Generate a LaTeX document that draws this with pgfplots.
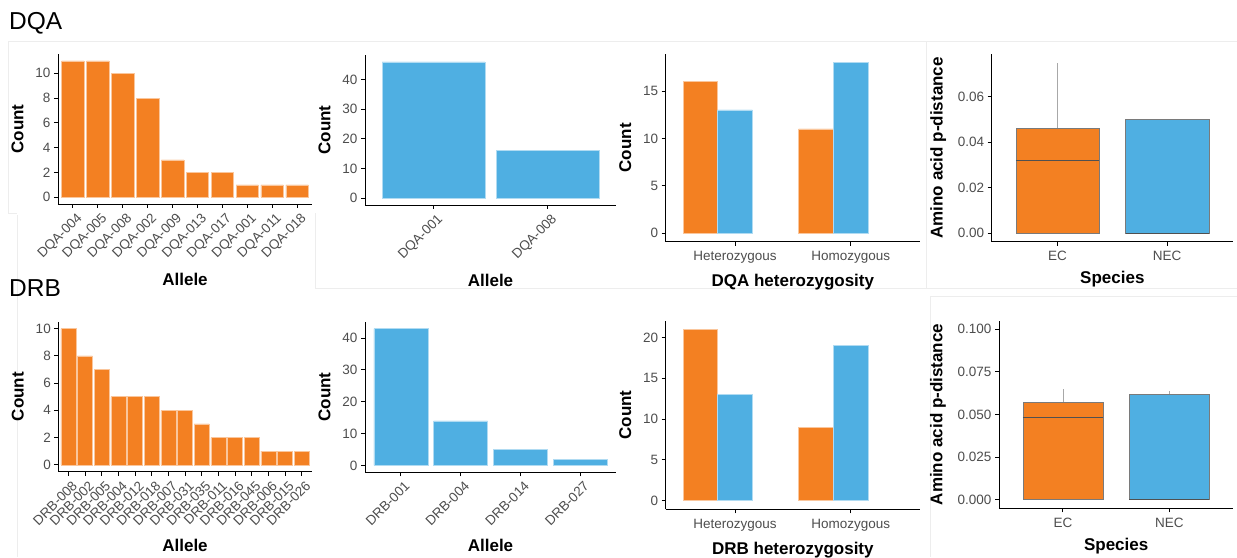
\documentclass[border=0pt]{standalone}
\usepackage{fontspec}
\setmainfont{Liberation Sans}
\usepackage{pgfplots}
\pgfplotsset{compat=1.18}

\definecolor{ecorange}{HTML}{F38022}
\definecolor{necblue}{HTML}{4FAFE2}
\definecolor{ticktext}{HTML}{4D4D4D}
\definecolor{panelline}{HTML}{EDEDED}
\definecolor{boxline}{HTML}{7A7A7A}
\definecolor{medline}{HTML}{505050}
\definecolor{whisk}{HTML}{A8A8A8}

\pgfplotsset{
  classic/.style={
    scale only axis,
    anchor=south west,
    axis x line*=bottom,
    axis y line*=left,
    axis line style={line width=0.9pt, black},
    tick align=outside,
    major tick length=4pt,
    every tick/.style={black, line width=0.9pt},
    tick label style={font=\fontsize{13.5}{16}\selectfont, color=ticktext},
    xticklabel style={yshift=-2pt},
    label style={font=\fontsize{17}{20}\selectfont\bfseries, color=black},
    xlabel style={yshift=-4pt},
    ylabel style={yshift=5pt},
    /pgf/number format/assume math mode=true,
    clip=false,
  },
  rotlabels/.style={xticklabel style={xshift=3pt, rotate=45, anchor=north east, inner sep=1.5pt},
    xlabel style={yshift=-3pt}},
  countbar/.style={ybar, bar width=0.9, bar shift=0, fill=#1, draw=#1!45!white, line width=0.5pt},
  pairbar/.style={ybar, bar width=0.3, fill=#1, draw=#1!45!white, line width=0.5pt},
  boxbody/.style={fill=#1, draw=boxline, line width=0.6pt},
  boxmedian/.style={draw=medline, line width=0.9pt},
  boxwhisker/.style={draw=whisk, line width=0.7pt},
}

\begin{document}
\begin{tikzpicture}
\path[use as bounding box] (0pt,0pt) rectangle (1237pt,557pt);

% light panel frames
\begin{scope}[draw=panelline, line width=0.7pt]
  \draw (8pt,516pt) -- (1237pt,516pt);
  \draw (8pt,516pt) -- (8pt,344pt) -- (17pt,344pt);
  \draw (17pt,342pt) -- (17pt,0pt);
  \draw (315pt,344pt) -- (315pt,269pt) -- (1237pt,269pt);
  \draw (926pt,516pt) -- (926pt,269pt);
  \draw (930pt,0pt) -- (930pt,261pt) -- (1237pt,261pt);
\end{scope}

% row titles
\node[anchor=base west, inner sep=0pt, font=\fontsize{24.5}{28}\selectfont] at (9pt,527pt) {DQA};
\node[anchor=base west, inner sep=0pt, font=\fontsize{24.5}{28}\selectfont] at (9pt,260pt) {DRB};

% ---------------- DQA: allele counts (EC)
\begin{axis}[classic, rotlabels, at={(58pt,353pt)}, width=254pt, height=150pt,
  xmin=0.4, xmax=10.6, ymin=-0.55, ymax=11.55,
  xtick={1,...,10},
  xticklabels={DQA-004,DQA-005,DQA-008,DQA-002,DQA-009,DQA-013,DQA-017,DQA-001,DQA-011,DQA-018},
  ytick={0,2,4,6,8,10},
  xlabel={Allele}, ylabel={Count}]
\addplot[countbar=ecorange] coordinates {(1,11) (2,11) (3,10) (4,8) (5,3) (6,2) (7,2) (8,1) (9,1) (10,1)};
\end{axis}

% ---------------- DQA: allele counts (NEC)
\begin{axis}[classic, rotlabels, at={(365pt,352pt)}, width=251pt, height=150pt,
  xmin=0.4, xmax=2.6, ymin=-2.3, ymax=48.3,
  xtick={1,2}, xticklabels={DQA-001,DQA-008},
  ytick={0,10,20,30,40},
  xlabel={Allele}, ylabel={Count}]
\addplot[countbar=necblue] coordinates {(1,46) (2,16)};
\end{axis}

% ---------------- DQA heterozygosity (dodged by species)
\begin{axis}[classic, at={(665.7pt,315.3pt)}, width=254.3pt, height=187.7pt,
  xmin=0.4, xmax=2.6, ymin=-0.9, ymax=18.9,
  xtick={1,2}, xticklabels={Heterozygous,Homozygous},
  ytick={0,5,10,15},
  xlabel={DQA heterozygosity}, ylabel={Count}]
\addplot[pairbar=ecorange, bar shift=-0.3] coordinates {(1,16) (2,11)};
\addplot[pairbar=necblue, bar shift=0] coordinates {(1,13) (2,18)};
\end{axis}

% ---------------- DQA p-distance (boxes: Q1 = 0)
\begin{axis}[classic, at={(991.7pt,315.3pt)}, width=241.3pt, height=187.7pt,
  xmin=0.4, xmax=2.6, ymin=-0.00375, ymax=0.07875,
  xtick={1,2}, xticklabels={EC,NEC},
  ytick={0,0.02,0.04,0.06}, yticklabels={0.00,0.02,0.04,0.06},
  scaled y ticks=false,
  xlabel={Species}, ylabel={Amino acid p-distance}]
% EC
\addplot[boxwhisker] coordinates {(1,0.046) (1,0.075)};
\addplot[boxbody=ecorange] coordinates {(0.62,0) (1.38,0) (1.38,0.046) (0.62,0.046)} -- cycle;
\addplot[boxmedian] coordinates {(0.62,0.032) (1.38,0.032)};
% NEC
\addplot[boxbody=necblue] coordinates {(1.62,0) (2.38,0) (2.38,0.05) (1.62,0.05)} -- cycle;
\addplot[boxmedian] coordinates {(1.62,0) (2.38,0)};
\end{axis}

% ---------------- DRB: allele counts (EC)
\begin{axis}[classic, rotlabels, at={(58.3pt,85.3pt)}, width=253.4pt, height=150pt,
  xmin=0.4, xmax=15.6, ymin=-0.5, ymax=10.5,
  xtick={1,...,15},
  xticklabels={DRB-008,DRB-002,DRB-005,DRB-004,DRB-012,DRB-018,DRB-007,DRB-031,DRB-035,DRB-011,DRB-016,DRB-045,DRB-006,DRB-015,DRB-026},
  ytick={0,2,4,6,8,10},
  xlabel={Allele}, ylabel={Count}]
\addplot[countbar=ecorange] coordinates {(1,10) (2,8) (3,7) (4,5) (5,5) (6,5) (7,4) (8,4) (9,3) (10,2) (11,2) (12,2) (13,1) (14,1) (15,1)};
\end{axis}

% ---------------- DRB: allele counts (NEC)
\begin{axis}[classic, rotlabels, at={(365pt,84.7pt)}, width=251pt, height=150.6pt,
  xmin=0.4, xmax=4.6, ymin=-2.15, ymax=45.15,
  xtick={1,2,3,4}, xticklabels={DRB-001,DRB-004,DRB-014,DRB-027},
  ytick={0,10,20,30,40},
  xlabel={Allele}, ylabel={Count}]
\addplot[countbar=necblue] coordinates {(1,43) (2,14) (3,5) (4,2)};
\end{axis}

% ---------------- DRB heterozygosity (dodged by species)
\begin{axis}[classic, at={(665.7pt,47.7pt)}, width=254.3pt, height=188.6pt,
  xmin=0.4, xmax=2.6, ymin=-1.05, ymax=22.05,
  xtick={1,2}, xticklabels={Heterozygous,Homozygous},
  ytick={0,5,10,15,20},
  xlabel={DRB heterozygosity}, ylabel={Count}]
\addplot[pairbar=ecorange, bar shift=-0.3] coordinates {(1,21) (2,9)};
\addplot[pairbar=necblue, bar shift=0] coordinates {(1,13) (2,19)};
\end{axis}

% ---------------- DRB p-distance (boxes: Q1 = 0)
\begin{axis}[classic, at={(999pt,48.7pt)}, width=234.3pt, height=187.6pt,
  xmin=0.4, xmax=2.6, ymin=-0.005, ymax=0.105,
  xtick={1,2}, xticklabels={EC,NEC},
  ytick={0,0.025,0.05,0.075,0.1}, yticklabels={0.000,0.025,0.050,0.075,0.100},
  scaled y ticks=false,
  xlabel={Species}, ylabel={Amino acid p-distance}]
% EC
\addplot[boxwhisker] coordinates {(1,0.057) (1,0.065)};
\addplot[boxbody=ecorange] coordinates {(0.625,0) (1.375,0) (1.375,0.057) (0.625,0.057)} -- cycle;
\addplot[boxmedian] coordinates {(0.625,0.048) (1.375,0.048)};
% NEC
\addplot[boxwhisker] coordinates {(2,0.062) (2,0.064)};
\addplot[boxbody=necblue] coordinates {(1.625,0) (2.375,0) (2.375,0.062) (1.625,0.062)} -- cycle;
\addplot[boxmedian] coordinates {(1.625,0) (2.375,0)};
\end{axis}
\end{tikzpicture}
\end{document}
